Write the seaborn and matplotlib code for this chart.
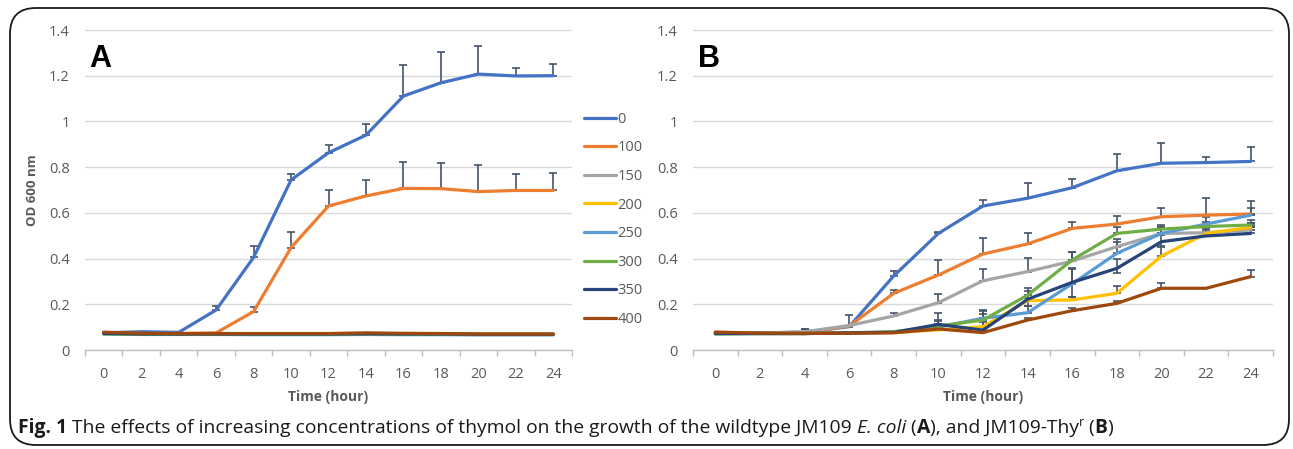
import numpy as np
import pandas as pd
import matplotlib
matplotlib.use("Agg")
import matplotlib.pyplot as plt
import seaborn as sns
from matplotlib.patches import FancyBboxPatch
from matplotlib.lines import Line2D

# ---------------- data ----------------
hours = [0, 2, 4, 6, 8, 10, 12, 14, 16, 18, 20, 22, 24]
concentrations = ["0", "100", "150", "200", "250", "300", "350", "400"]
colors = ["#4472C4", "#ED7D31", "#A5A5A5", "#FFC000",
          "#5B9BD5", "#70AD47", "#264478", "#9E480E"]

# Panel A (wildtype JM109)
a_0   = [0.075, 0.080, 0.077, 0.175, 0.405, 0.744, 0.863, 0.940, 1.111, 1.169, 1.207, 1.199, 1.200]
a_100 = [0.075, 0.072, 0.072, 0.075, 0.168, 0.448, 0.630, 0.674, 0.707, 0.706, 0.693, 0.698, 0.698]
a_150 = [0.072, 0.070, 0.070, 0.070, 0.070, 0.070, 0.070, 0.071, 0.070, 0.070, 0.069, 0.069, 0.069]
a_200 = [0.072, 0.070, 0.070, 0.070, 0.070, 0.070, 0.070, 0.071, 0.070, 0.070, 0.069, 0.069, 0.069]
a_250 = [0.070, 0.068, 0.068, 0.068, 0.067, 0.067, 0.067, 0.068, 0.067, 0.067, 0.066, 0.066, 0.066]
a_300 = [0.070, 0.069, 0.069, 0.069, 0.069, 0.069, 0.069, 0.070, 0.069, 0.069, 0.068, 0.068, 0.068]
a_350 = [0.073, 0.070, 0.070, 0.070, 0.070, 0.070, 0.070, 0.071, 0.070, 0.070, 0.069, 0.069, 0.069]
a_400 = [0.078, 0.073, 0.072, 0.072, 0.072, 0.072, 0.072, 0.075, 0.073, 0.072, 0.070, 0.070, 0.070]
a_0_err   = [0, 0, 0, 0.018, 0.050, 0.025, 0.035, 0.049, 0.136, 0.136, 0.124, 0.035, 0.050]
a_100_err = [0, 0, 0, 0, 0.019, 0.070, 0.070, 0.070, 0.115, 0.111, 0.117, 0.072, 0.078]

# Panel B (JM109-Thy^r)
b_0   = [0.075, 0.075, 0.078, 0.102, 0.324, 0.510, 0.630, 0.664, 0.710, 0.784, 0.817, 0.820, 0.825]
b_100 = [0.078, 0.073, 0.075, 0.105, 0.248, 0.328, 0.420, 0.464, 0.532, 0.551, 0.583, 0.590, 0.595]
b_150 = [0.075, 0.073, 0.080, 0.107, 0.149, 0.207, 0.303, 0.343, 0.389, 0.452, 0.510, 0.513, 0.525]
b_200 = [0.075, 0.072, 0.072, 0.075, 0.077, 0.088, 0.102, 0.216, 0.219, 0.248, 0.411, 0.510, 0.537]
b_250 = [0.072, 0.072, 0.072, 0.075, 0.078, 0.100, 0.139, 0.163, 0.290, 0.423, 0.510, 0.551, 0.590]
b_300 = [0.070, 0.072, 0.072, 0.075, 0.080, 0.105, 0.131, 0.240, 0.394, 0.510, 0.529, 0.540, 0.547]
b_350 = [0.072, 0.072, 0.072, 0.075, 0.077, 0.112, 0.087, 0.222, 0.296, 0.357, 0.474, 0.499, 0.510]
b_400 = [0.078, 0.074, 0.073, 0.073, 0.075, 0.092, 0.076, 0.131, 0.172, 0.204, 0.270, 0.270, 0.321]
b_0_err   = [0, 0.003, 0.012, 0.050, 0.020, 0.008, 0.025, 0.065, 0.040, 0.075, 0.090, 0.025, 0.065]
b_100_err = [0, 0, 0, 0, 0.015, 0.065, 0.070, 0.050, 0.030, 0.035, 0.040, 0.075, 0.055]
b_150_err = [0, 0, 0.010, 0, 0.015, 0.040, 0.050, 0.058, 0.040, 0.035, 0.030, 0.020, 0.030]
b_200_err = [0, 0, 0, 0, 0, 0.010, 0.020, 0.010, 0.012, 0.030, 0.040, 0.020, 0.020]
b_250_err = [0, 0, 0, 0, 0, 0.030, 0.035, 0.030, 0.067, 0.050, 0.030, 0.030, 0.030]
b_300_err = [0, 0, 0, 0, 0, 0.020, 0.040, 0.020, 0.036, 0.030, 0.020, 0.020, 0.020]
b_350_err = [0, 0, 0, 0, 0, 0.050, 0.070, 0.050, 0.060, 0.040, 0.030, 0.020, 0.030]
b_350_lo  = [0, 0, 0, 0, 0, 0, 0, 0.030, 0.063, 0.020, 0.020, 0, 0]
b_400_err = [0, 0, 0, 0, 0, 0, 0, 0.010, 0.010, 0.010, 0.025, 0, 0.030]

y_ticks = [0, 0.2, 0.4, 0.6, 0.8, 1.0, 1.2, 1.4]
y_tick_labels = ["0", "0.2", "0.4", "0.6", "0.8", "1", "1.2", "1.4"]

panel_a = [a_0, a_100, a_150, a_200, a_250, a_300, a_350, a_400]
panel_b = [b_0, b_100, b_150, b_200, b_250, b_300, b_350, b_400]
zeros = [0] * len(hours)
err_a = [(zeros, a_0_err), (zeros, a_100_err)] + [(zeros, zeros)] * 6
err_b = [(zeros, b_0_err), (zeros, b_100_err), (zeros, b_150_err), (zeros, b_200_err),
         (zeros, b_250_err), (zeros, b_300_err), (b_350_lo, b_350_err), (zeros, b_400_err)]

caption_pieces = [
    ("Fig. 1", "bold"), (" The effects of increasing concentrations of thymol on the growth of the wildtype JM109 ", "normal"),
    ("E. coli", "italic"), (" (", "normal"), ("A", "bold"), ("), and JM109-Thy", "normal"),
    ("r", "sup"), (" (", "normal"), ("B", "bold"), (")", "normal"),
]

# ---------------- style ----------------
sns.set_theme(style="white")
plt.rcParams["font.family"] = ["Open Sans", "DejaVu Sans"]

TXT = "#595959"
GRID = "#D9D9D9"
ERR = "#44546A"

W, H = 1293, 449
fig = plt.figure(figsize=(W / 100, H / 100), dpi=100)

# outer rounded frame
frame = FancyBboxPatch((10 / W, 4 / H), 1279 / W, 437 / H,
                       boxstyle="round,pad=0,rounding_size=0.02",
                       transform=fig.transFigure, fill=False,
                       edgecolor="#1a1a1a", linewidth=1.3, mutation_aspect=W / H)
fig.patches.append(frame)

axA = fig.add_axes([85 / W, 99 / H, 487 / W, 320 / H])
axB = fig.add_axes([693 / W, 99 / H, 580 / W, 320 / H])


def draw_panel(ax, series, errs, letter, ylabel):
    rows = []
    for conc, vals in zip(concentrations, series):
        for h, v in zip(hours, vals):
            rows.append({"hour": h, "od": v, "conc": conc})
    df = pd.DataFrame(rows)
    palette = dict(zip(concentrations, colors))
    for conc in concentrations:
        sns.lineplot(data=df[df["conc"] == conc], x="hour", y="od",
                     color=palette[conc], linewidth=2.3, ax=ax,
                     estimator=None, sort=False, legend=False, zorder=3)
    for vals, (lo, hi) in zip(series, errs):
        x = np.array(hours, dtype=float)
        y = np.array(vals)
        lo = np.array(lo); hi = np.array(hi)
        m = (hi > 0) | (lo > 0)
        if m.any():
            up = m & (lo == 0)
            if up.any():
                ax.errorbar(x[up], y[up], yerr=[np.zeros(up.sum()), hi[up]],
                            fmt="none", ecolor=ERR, elinewidth=1.2,
                            capsize=3, capthick=1.2, zorder=2)
            both = m & (lo > 0)
            if both.any():
                ax.errorbar(x[both], y[both], yerr=[lo[both], hi[both]],
                            fmt="none", ecolor=ERR, elinewidth=1.2,
                            capsize=3, capthick=1.2, zorder=2)

    ax.set_xlim(-1, 25)
    ax.set_ylim(0, 1.4)
    ax.set_yticks(y_ticks)
    ax.set_yticklabels(y_tick_labels)
    ax.set_xticks(hours)
    ax.set_xticklabels([str(h) for h in hours])
    ax.set_xticks(np.arange(-1, 26, 2), minor=True)
    ax.grid(axis="y", color=GRID, linewidth=1.0, zorder=0)
    ax.grid(axis="x", visible=False)
    for s in ["top", "right", "left"]:
        ax.spines[s].set_visible(False)
    ax.spines["bottom"].set_color("#BFBFBF")
    ax.spines["bottom"].set_linewidth(1.0)
    ax.tick_params(axis="y", length=0, pad=11, labelsize=10.5, labelcolor=TXT)
    ax.tick_params(axis="x", which="major", length=0, pad=12, labelsize=10.5, labelcolor=TXT)
    ax.tick_params(axis="x", which="minor", length=4, width=1.0, color="#BFBFBF", bottom=True)
    ax.set_xlabel("Time (hour)", fontsize=10, fontweight="bold", color=TXT, labelpad=6)
    if ylabel:
        ax.set_ylabel(ylabel, fontsize=9.5, fontweight="bold", color=TXT, labelpad=7)
    else:
        ax.set_ylabel("")
    ax.text(0.008, 0.955, letter, transform=ax.transAxes, fontsize=22,
            fontweight="bold", color="black", va="top", ha="left",
            family=["Liberation Sans", "DejaVu Sans"])
    ax.set_facecolor("none")


draw_panel(axA, panel_a, err_a, "A", "OD 600 nm")
draw_panel(axB, panel_b, err_b, "B", None)

handles = [Line2D([0], [0], color=c, linewidth=2.3) for c in colors]
leg = fig.legend(handles, concentrations, loc="upper left",
                 bbox_to_anchor=(578 / W, 1 - 106 / H), frameon=False,
                 fontsize=10.5, handlelength=2.2, handletextpad=0.1,
                 labelspacing=0.93, borderaxespad=0)
for t in leg.get_texts():
    t.set_color(TXT)

# caption, drawn piece by piece
renderer = fig.canvas.get_renderer()
x_px = 18.0
y_base = 1 - 433 / H
CAP_FS = 13.9
for txt, style in caption_pieces:
    kw = dict(fontsize=CAP_FS, color="#1a1a1a", va="baseline", ha="left")
    y = y_base
    if style == "bold":
        kw["fontweight"] = "bold"
    elif style == "italic":
        kw["fontstyle"] = "italic"
    elif style == "sup":
        kw["fontsize"] = CAP_FS * 0.65
        y = y_base + 7 / H
    t = fig.text(x_px / W, y, txt, **kw)
    bb = t.get_window_extent(renderer=renderer)
    x_px += bb.width

fig.savefig("out.png", dpi=100)
